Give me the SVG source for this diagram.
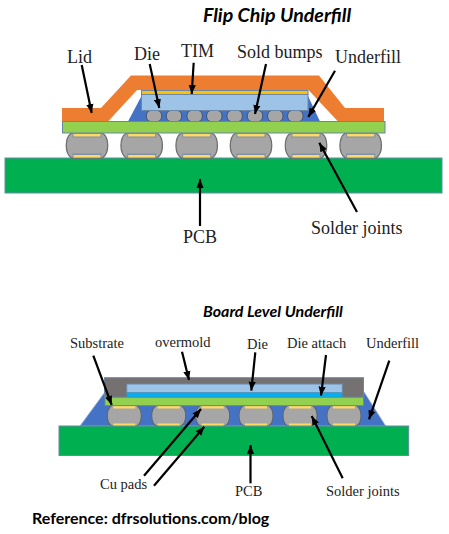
<svg xmlns="http://www.w3.org/2000/svg" width="449" height="534" viewBox="0 0 449 534">
<style>
.s{font-family:"Liberation Serif","Times New Roman",serif;fill:#222}
.a{font-size:18px}
.b{font-size:14.5px}
.t{font-family:Lato,"Open Sans",sans-serif;font-weight:700;fill:#000}
.e{stroke:#6b87a8;stroke-width:1}
.c{fill:none;stroke:#000;stroke-width:2.2;marker-end:url(#h)}
</style>
<defs>
<marker id="h" markerUnits="userSpaceOnUse" viewBox="0 0 10 8" refX="10" refY="4" markerWidth="9" markerHeight="8" orient="auto"><path d="M0 0L10 4L0 8Z" fill="#000"/></marker>
<g id="jl">
<path d="M-15.500 0C-22.500 5-22.500 20-15.500 25H15.500C22.500 20 22.500 5 15.500 0Z" fill="#a6a6a6" stroke="#6f6f6f" stroke-width="1.300"/>
<rect x="-14.500" y="0" width="29" height="4.500" fill="#7f8fa9"/>
<rect x="-13.500" y="1" width="27" height="2.500" fill="#ffd966"/>
<rect x="-14.500" y="20.500" width="29" height="4.500" fill="#7f8fa9"/>
<rect x="-13.500" y="22" width="27" height="2.500" fill="#ffd966"/>
</g>
<g id="jb">
<path d="M-12.500 0C-18.500 4-18.500 16.500-12.500 20.500H12.500C18.500 16.500 18.500 4 12.500 0Z" fill="#a6a6a6" stroke="#5f6670" stroke-width="1.100"/>
<rect x="-11" y="0.500" width="22" height="2.500" fill="#ffd966"/>
<rect x="-11" y="18" width="22" height="2.500" fill="#ffd966"/>
</g>
<path id="bp" d="M-4 0C-9 1.500-9 9.500-4 11H4C9 9.500 9 1.500 4 0Z" fill="#a6a6a6" stroke="#44546a" stroke-width="1"/>
</defs>
<rect width="449" height="534" fill="#fff"/>

<g id="flip-pcb"><rect class="e" x="5" y="158" width="437" height="35" fill="#00b050"/></g>
<g id="flip-joints">
<use href="#jl" x="87" y="133"/><use href="#jl" x="141.700" y="133"/><use href="#jl" x="196.700" y="133"/><use href="#jl" x="251" y="133"/><use href="#jl" x="306" y="133"/><use href="#jl" x="360.700" y="133"/>
</g>
<g id="flip-underfill"><path d="M128 121.500L141.500 96H308L320 121.500Z" fill="#4472c4"/></g>
<g id="flip-lid"><path d="M62 108H101L131 75.500H319L345 108H384V121.500H338L308.500 90H137L108 121.500H62Z" fill="#ed7d31"/></g>
<g id="flip-bumps">
<use href="#bp" x="154" y="110.500"/><use href="#bp" x="174" y="110.500"/><use href="#bp" x="194.700" y="110.500"/><use href="#bp" x="214.300" y="110.500"/><use href="#bp" x="234.700" y="110.500"/><use href="#bp" x="255" y="110.500"/><use href="#bp" x="275.300" y="110.500"/><use href="#bp" x="295.300" y="110.500"/>
</g>
<g id="flip-substrate"><rect class="e" x="62.500" y="121.500" width="322.500" height="11.500" fill="#92d050"/></g>
<g id="flip-die"><rect class="e" x="141.500" y="94.500" width="166.500" height="16" fill="#9dc3e6"/></g>
<g id="flip-tim"><rect class="e" x="141.500" y="90.500" width="166.500" height="4" fill="#ffc000"/></g>

<g id="board-underfill"><path d="M80 426L105 392H364L385.700 426Z" fill="#4472c4" stroke="#8faadc" stroke-width=".8"/></g>
<g id="board-joints">
<use href="#jb" x="124.300" y="405.500"/><use href="#jb" x="168.700" y="405.500"/><use href="#jb" x="212.700" y="405.500"/><use href="#jb" x="256" y="405.500"/><use href="#jb" x="300" y="405.500"/><use href="#jb" x="344" y="405.500"/>
</g>
<g id="board-pcb"><rect class="e" x="59" y="426" width="349.700" height="29.500" fill="#00b050"/></g>
<g id="board-overmold"><rect class="e" x="104.500" y="377.700" width="259" height="19.500" fill="#767171"/></g>
<g id="board-die"><rect class="e" x="126.700" y="384" width="215.600" height="8.700" fill="#9dc3e6"/></g>
<g id="board-die-attach"><rect x="126.700" y="392.700" width="215.600" height="4.300" fill="#00b0f0"/></g>
<g id="board-substrate"><rect class="e" x="105" y="397.300" width="258.500" height="8.300" fill="#92d050"/></g>

<g id="connectors">
<path class="c" d="M81.700 65L91.700 113"/>
<path class="c" d="M149.700 64L159.300 108"/>
<path class="c" d="M193.700 62.700L191.700 94"/>
<path class="c" d="M266 64L255 114"/>
<path class="c" d="M335 70.700L308.300 117"/>
<path class="c" d="M200 226V179"/>
<path class="c" d="M357 212L319.300 142.700"/>
<path class="c" d="M93.300 355.700L111.700 405"/>
<path class="c" d="M182 351.700L189 380"/>
<path class="c" d="M255.300 352.300L251.300 390.700"/>
<path class="c" d="M326 355L321 395.700"/>
<path class="c" d="M389.300 360.700L369 419.300"/>
<path class="c" d="M144 475.700L201 409"/>
<path class="c" d="M154 485.700L204.300 426.700"/>
<path class="c" d="M250.500 483.300V445"/>
<path class="c" d="M342.700 478.300L311.700 416"/>
</g>

<g id="labels">
<text class="t" font-style="italic" font-size="19.600" x="203" y="22">Flip Chip Underfill</text>
<text class="s a" x="67" y="63">Lid</text>
<text class="s a" x="134" y="60">Die</text>
<text class="s a" x="181" y="57">TIM</text>
<text class="s a" x="237" y="58">Sold bumps</text>
<text class="s a" x="335" y="63">Underfill</text>
<text class="s a" x="183" y="243">PCB</text>
<text class="s a" x="311" y="234">Solder joints</text>
<text class="t" font-style="italic" font-size="16" x="203" y="317">Board Level Underfill</text>
<text class="s b" x="70" y="348">Substrate</text>
<text class="s b" x="155" y="347">overmold</text>
<text class="s b" x="247" y="349">Die</text>
<text class="s b" x="287" y="348">Die attach</text>
<text class="s b" x="366" y="348">Underfill</text>
<text class="s b" x="100" y="489">Cu pads</text>
<text class="s b" x="235" y="496">PCB</text>
<text class="s b" x="326" y="496">Solder joints</text>
<text class="t" font-size="16" x="32" y="524">Reference: dfrsolutions.com/blog</text>
</g>
</svg>
